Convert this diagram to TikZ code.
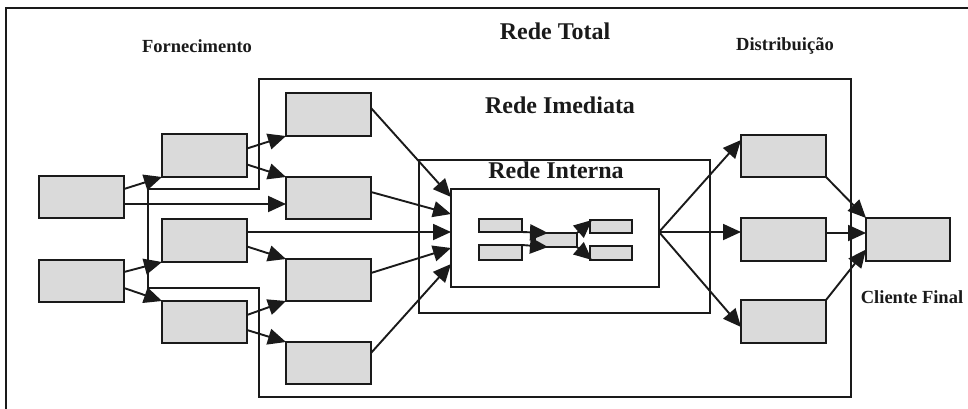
\documentclass[tikz,border=0pt]{standalone}
\usepackage{fontspec}
\setmainfont{Liberation Serif}
\usetikzlibrary{arrows.meta,calc}
\definecolor{boxgray}{HTML}{DADADA}
\definecolor{ink}{HTML}{1A1A1A}
\begin{document}
\begin{tikzpicture}[x=1pt,y=-1pt,
  box/.style={draw=ink, fill=boxgray, line width=2.3pt, inner sep=0pt, outer sep=0pt, minimum width=85pt, minimum height=42pt},
  mini/.style={draw=ink, fill=boxgray, line width=1.6pt, inner sep=0pt, outer sep=0pt, minimum width=43pt, minimum height=14pt},
  frame/.style={draw=ink, line width=2.1pt},
  arr/.style={draw=ink, line width=1.9pt, -{Triangle[length=18pt,width=16pt]}},
  big/.style={font=\bfseries\fontsize{24}{27}\selectfont, text=ink},
  lab/.style={font=\bfseries\fontsize{18.5}{22}\selectfont, text=ink}]
\clip (0,0) rectangle (968,408);
\fill[white] (0,0) rectangle (968,408);
% Rede Total frame (cut by the picture edge)
\draw[frame] (6,8) rectangle (990,430);
% Rede Imediata outline
\draw[frame] (259,79) -- (851,79) -- (851,397) -- (259,397) -- (259,288) -- (148,288) -- (148,189) -- (259,189) -- cycle;
% Rede Interna
\node[frame, fill=white, inner sep=0pt, outer sep=0pt, minimum width=291pt, minimum height=153pt] (RI) at (564.5,236.5) {};
\node[frame, fill=white, inner sep=0pt, outer sep=0pt, minimum width=208pt, minimum height=98pt] (IN) at (555,238) {};
% labels
\node[big] (tTotal) at (555,31) {Rede Total};
\node[lab] (tForn) at (197,46) {Fornecimento};
\node[lab] (tDist) at (785,46) {Distribuição};
\node[big] (tImed) at (560,105) {Rede Imediata};
\node[big] (tInt) at (556,170) {Rede Interna};
\node[lab] (tCli) at (912,297) {Cliente Final};
% boxes
\node[box] (A) at (81.5,197) {};
\node[box] (B) at (81.5,281) {};
\node[box, minimum height=43pt] (C) at (204.5,155.5) {};
\node[box, minimum height=43pt] (D) at (204.5,240.5) {};
\node[box] (E) at (204.5,322) {};
\node[box, minimum height=43pt] (F) at (328.5,114.5) {};
\node[box] (G) at (328.5,198) {};
\node[box] (H) at (328.5,280) {};
\node[box] (I) at (328.5,363) {};
\node[box] (J) at (783.5,156) {};
\node[box, minimum height=43pt] (K) at (783.5,239.5) {};
\node[box, minimum height=43pt] (L) at (783.5,321.5) {};
\node[box, minimum width=84pt, minimum height=43pt] (M) at (908,239.5) {};
% mini boxes
\node[mini, minimum height=13pt] (m1) at (500.5,225.5) {};
\node[mini, minimum height=15pt] (m2) at (500.5,252.5) {};
\node[mini, minimum width=42pt] (mm) at (556,240) {};
\node[mini, minimum width=42pt, minimum height=13pt] (r1) at (611,226.5) {};
\node[mini, minimum width=42pt] (r2) at (611,253) {};
% connectors: supply side
\draw[arr] ([yshift=8pt]A.east) -- (C.south west);
\draw[arr] ([yshift=-7pt]A.east) -- ([yshift=-7pt]A.east -| G.west);
\draw[arr] ([yshift=9pt]B.east) -- (D.south west);
\draw[arr] ([yshift=-7pt]B.east) -- (E.north west);
\draw[arr] ([yshift=7pt]C.east) -- (F.south west);
\draw[arr] ([yshift=-9pt]C.east) -- (G.north west);
\draw[arr] ([yshift=-6pt]D.east) -- (H.north west);
\draw[arr] ([yshift=7pt]E.east) -- (H.south west);
\draw[arr] ([yshift=-8pt]E.east) -- (I.north west);
% into the internal network
\draw[arr] ([yshift=6.5pt]F.east) -- ([yshift=41pt]IN.west);
\draw[arr] ([yshift=6pt]G.east) -- ([yshift=24pt]IN.west);
\draw[arr] ([yshift=8.5pt]D.east) -- ([yshift=8.5pt]D.east -| IN.west);
\draw[arr] ([yshift=7pt]H.east) -- ([yshift=-10pt]IN.west);
\draw[arr] ([yshift=10pt]I.east) -- ([yshift=-26pt]IN.west);
% inside
\draw[arr] (m1.south east) -- ([xshift=13pt]mm.north west);
\draw[arr] (m2.north east) -- ([xshift=13pt]mm.south west);
\draw[arr] (mm.north east) -- ([xshift=2pt]r1.north west);
\draw[arr] (mm.south east) -- ([xshift=2pt]r2.south west);
% distribution side
\draw[arr] ([yshift=6pt]IN.east) -- ([yshift=16pt]J.west);
\draw[arr] ([yshift=6pt]IN.east) -- ([yshift=6pt]IN.east -| K.west);
\draw[arr] ([yshift=6pt]IN.east) -- ([yshift=-5.5pt]L.west);
\draw[arr] (J.south east) -- (M.north west);
\draw[arr] ([yshift=6.5pt]K.east) -- ([yshift=6.5pt]M.west);
\draw[arr] (L.north east) -- ([yshift=-10pt]M.west);
\end{tikzpicture}
\end{document}
